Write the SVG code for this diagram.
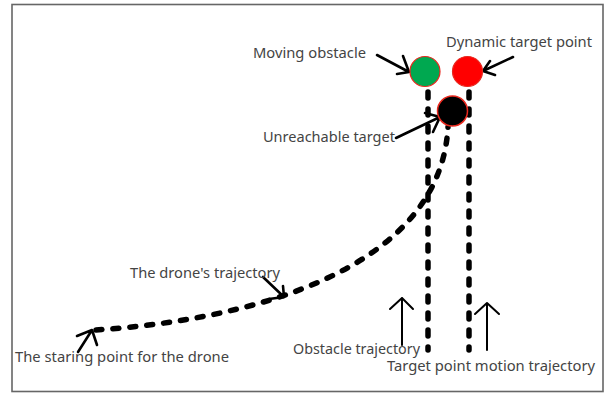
<svg xmlns="http://www.w3.org/2000/svg" width="611" height="394" viewBox="0 0 611 394">
<style>
.lbl{font-family:"Noto Sans","Open Sans",sans-serif;font-size:13.5px;fill:#444}
.dash{fill:none;stroke:#000;stroke-width:5.5;stroke-linecap:round;stroke-dasharray:6 11}
.arr{fill:none;stroke:#000;stroke-width:2.6;stroke-linecap:round;stroke-linejoin:round}
.thin{fill:none;stroke:#000;stroke-width:2;stroke-linecap:round;stroke-linejoin:round}
</style>
<rect x="12" y="4.5" width="591" height="387" fill="#fff" stroke="#666" stroke-width="1.6"/>
<g id="connectors">
<path class="dash" d="M428,92 L428,350"/>
<path class="dash" d="M469,92 L469,350"/>
<path class="dash" d="M96,330 C250,320 440,270 448,127"/>
<path class="arr" d="M377,55 L409,72 M403,56 L409,72 L397,74"/>
<path class="arr" d="M513,57 L483,71 M490,61 L483,71 L495,75"/>
<path class="arr" d="M396,138 L440,117 M425,113 L440,117 L433,132"/>
<path class="arr" d="M263,277 L284,297 M283,286 L284,297 L269,299"/>
<path class="arr" d="M78,352 L92,330 M77,336 L92,330 L97,345"/>
<path class="thin" d="M402,345 L402,298 M390,309 L402,298 L413,309"/>
<path class="thin" d="M487,350 L487,303 M475,314 L487,303 L499,314"/>
</g>
<g id="obstacle"><circle cx="425" cy="71.5" r="15" fill="#00a850" stroke="#e8281e" stroke-width="1.2"/></g>
<g id="target"><circle cx="467.5" cy="71.5" r="15" fill="#ff0000" stroke="#e8281e" stroke-width="1.2"/></g>
<g id="unreachable"><circle cx="452.5" cy="111" r="15" fill="#000" stroke="#e8281e" stroke-width="1.5"/></g>
<g id="labels">
<text class="lbl" x="253" y="58" textLength="113" lengthAdjust="spacingAndGlyphs">Moving obstacle</text>
<text class="lbl" x="446" y="47" textLength="146" lengthAdjust="spacingAndGlyphs">Dynamic target point</text>
<text class="lbl" x="263" y="141.5" textLength="132" lengthAdjust="spacingAndGlyphs">Unreachable target</text>
<text class="lbl" x="130" y="278" textLength="150" lengthAdjust="spacingAndGlyphs">The drone's trajectory</text>
<text class="lbl" x="15" y="361.5" textLength="214" lengthAdjust="spacingAndGlyphs">The staring point for the drone</text>
<text class="lbl" x="293" y="354" textLength="127" lengthAdjust="spacingAndGlyphs">Obstacle trajectory</text>
<text class="lbl" x="387" y="370.5" textLength="208" lengthAdjust="spacingAndGlyphs">Target point motion trajectory</text>
</g>
</svg>
